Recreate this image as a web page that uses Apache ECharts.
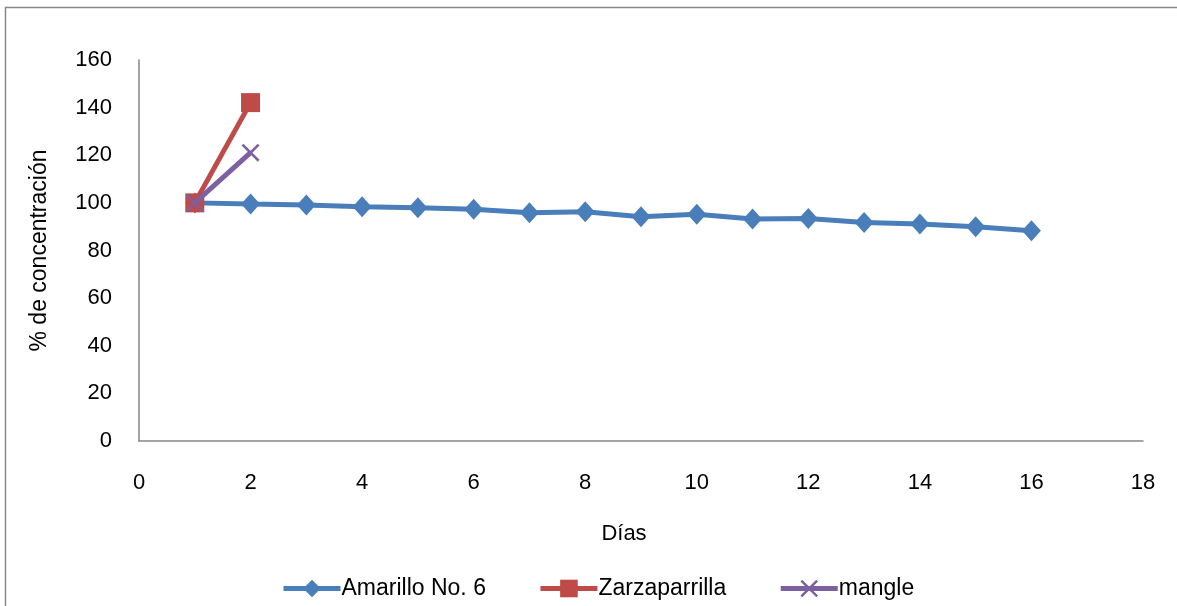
<!DOCTYPE html>
<html>
<head>
<meta charset="utf-8">
<script src="https://cdn.jsdelivr.net/npm/echarts@6/dist/echarts.min.js"></script>
<style>
html,body{margin:0;padding:0;background:#fff;}
#c{width:1177px;height:606px;}
</style>
</head>
<body>
<div id="c"></div>
<script>
const xTicks = [0, 2, 4, 6, 8, 10, 12, 14, 16, 18];
const yTicks = [0, 20, 40, 60, 80, 100, 120, 140, 160];
const seriesNames = ['Amarillo No. 6', 'Zarzaparrilla', 'mangle'];
const amarilloDays = [1, 2, 3, 4, 5, 6, 7, 8, 9, 10, 11, 12, 13, 14, 15, 16];
const amarilloValues = [100, 99.5, 99.1, 98.4, 98.0, 97.3, 95.9, 96.3, 94.2, 95.2, 93.2, 93.4, 91.8, 91.1, 90.0, 88.3];
const zarzaDays = [1, 2];
const zarzaValues = [100, 142.1];
const mangleDays = [1, 2];
const mangleValues = [100, 121.1];

const pair = (xs, ys) => xs.map((x, i) => [x, ys[i]]);
const FONT = 'Liberation Sans';
const xSymbol = 'path://M0,1 L1,0 L5,4 L9,0 L10,1 L6,5 L10,9 L9,10 L5,6 L1,10 L0,9 L4,5 Z';

const chart = echarts.init(document.getElementById('c'));
chart.setOption({
  animation: false,
  backgroundColor: '#ffffff',
  textStyle: { fontFamily: FONT, color: '#000' },
  graphic: [{
    type: 'rect', shape: { x: 5.5, y: 7.5, width: 1250, height: 700 },
    style: { fill: 'none', stroke: '#888888', lineWidth: 1.5 }, silent: true, z: 0
  }],
  grid: { left: 139, right: 34, top: 60, bottom: 165, containLabel: false },
  legend: {
    data: seriesNames,
    left: 276, top: 572,
    itemWidth: 57, itemHeight: 22, itemGap: 52,
    lineStyle: { width: 5 },
    textStyle: { fontFamily: FONT, fontSize: 23, color: '#000', padding: [0, 0, 0, -4] }
  },
  xAxis: {
    type: 'value', min: xTicks[0], max: xTicks[xTicks.length - 1], interval: 2,
    name: 'Días', nameLocation: 'middle', nameGap: 82,
    nameTextStyle: { fontFamily: FONT, fontSize: 22, color: '#000', padding: [0, 34, 0, 0] },
    axisLine: { show: true, onZero: false, lineStyle: { color: '#868686', width: 1.5 } },
    axisTick: { show: false },
    splitLine: { show: false },
    axisLabel: { fontFamily: FONT, fontSize: 22, color: '#000', margin: 31 }
  },
  yAxis: {
    type: 'value', min: yTicks[0], max: yTicks[yTicks.length - 1], interval: 20,
    name: '% de concentración', nameLocation: 'middle', nameGap: 88, nameRotate: 90,
    nameTextStyle: { fontFamily: FONT, fontSize: 23, color: '#000' },
    axisLine: { show: true, lineStyle: { color: '#868686', width: 1.5 } },
    axisTick: { show: false },
    splitLine: { show: false },
    axisLabel: { fontFamily: FONT, fontSize: 22, color: '#000', margin: 27 }
  },
  series: [
    {
      name: seriesNames[0], type: 'line', data: pair(amarilloDays, amarilloValues),
      symbol: 'diamond', symbolSize: [19, 21],
      lineStyle: { color: '#4A7EBB', width: 5 },
      itemStyle: { color: '#4A7EBB' }, z: 2
    },
    {
      name: seriesNames[1], type: 'line', data: pair(zarzaDays, zarzaValues),
      symbol: 'rect', symbolSize: 19,
      lineStyle: { color: '#BE4B48', width: 5 },
      itemStyle: { color: '#BE4B48' }, z: 3
    },
    {
      name: seriesNames[2], type: 'line', data: pair(mangleDays, mangleValues),
      symbol: xSymbol, symbolSize: 18,
      lineStyle: { color: '#7D60A0', width: 5 },
      itemStyle: { color: '#7D60A0' }, z: 4
    }
  ]
});
</script>
</body>
</html>
